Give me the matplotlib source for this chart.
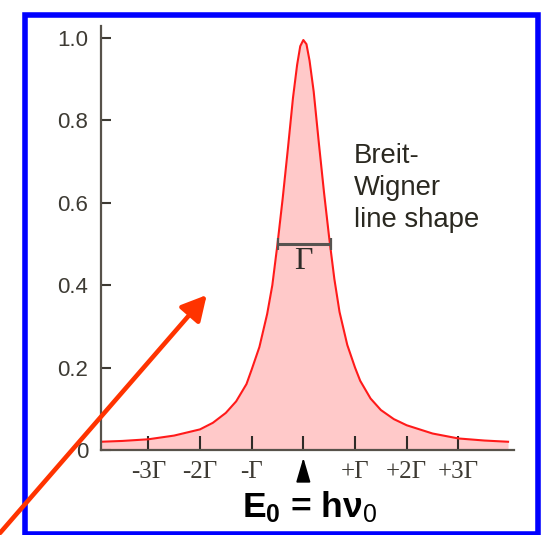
import matplotlib
matplotlib.use('Agg')
import matplotlib.pyplot as plt
from matplotlib.patches import Rectangle, FancyArrowPatch

plt.rcParams['font.family'] = ['Liberation Sans', 'DejaVu Sans']
plt.rcParams['mathtext.fontset'] = 'custom'
plt.rcParams['mathtext.rm'] = 'Liberation Sans'
plt.rcParams['mathtext.it'] = 'Liberation Sans:italic'
plt.rcParams['mathtext.bf'] = 'Liberation Sans:bold'

# line shape, energy in units of Gamma
energy = [-3.92, -3.5, -3.0, -2.5, -2.0, -1.75, -1.5, -1.3, -1.1, -1.0, -0.85, -0.7,
          -0.6, -0.5, -0.4, -0.3, -0.2, -0.12, -0.06, 0.0, 0.06, 0.12, 0.2, 0.3,
          0.4, 0.5, 0.6, 0.7, 0.85, 1.0, 1.1, 1.3, 1.5, 1.75, 2.0, 2.5, 3.0, 3.5, 3.96]
intensity = [0.020, 0.022, 0.026, 0.035, 0.050, 0.066, 0.090, 0.118, 0.160, 0.195, 0.250, 0.330,
             0.400, 0.500, 0.610, 0.730, 0.855, 0.935, 0.980, 0.995, 0.985, 0.945, 0.870, 0.745,
             0.625, 0.515, 0.415, 0.335, 0.255, 0.200, 0.168, 0.125, 0.097, 0.075, 0.060, 0.040, 0.028, 0.023, 0.020]

x_ticks = [-3, -2, -1, 0, 1, 2, 3]
x_labels = ['-3\u0393', '-2\u0393', '-\u0393', '', '+\u0393', '+2\u0393', '+3\u0393']
y_ticks = [0, 0.2, 0.4, 0.6, 0.8, 1.0]
y_labels = ['0', '0.2', '0.4', '0.6', '0.8', '1.0']

# full width at half maximum marker
fwhm_x = [-0.495, 0.53]
fwhm_y = [0.5, 0.5]

W, H = 543, 535
fig = plt.figure(figsize=(W / 100, H / 100), dpi=100)
ax = fig.add_axes([100.7 / W, 85 / H, 413.3 / W, 424 / H])

ax.fill_between(energy, intensity, 0, color='#ffc9c9', lw=0)
ax.plot(energy, intensity, color='#ff1a1a', lw=1.5)

ax.plot(fwhm_x, fwhm_y, color='#575350', lw=2.2, solid_capstyle='butt')
ax.plot(fwhm_x, fwhm_y, ls='none', marker='|', ms=8, mew=1.6, color='#575350')
ax.text(0, 0.458, '\u0393', ha='center', va='center', fontsize=23,
        family='Liberation Serif', color='#2e2c28')

ax.set_xlim(-3.92, 4.075)
ax.set_ylim(0, 1.029)
for s in ['top', 'right']:
    ax.spines[s].set_visible(False)
for s in ['left', 'bottom']:
    ax.spines[s].set_color('#57524a')
    ax.spines[s].set_linewidth(1.6)

ax.set_yticks(y_ticks)
ax.set_yticklabels(y_labels, fontsize=16, color='#3d3a33')
ax.set_xticks(x_ticks)
ax.set_xticklabels(x_labels, fontsize=18, family='Liberation Serif', color='#3d3a33')
ax.tick_params(axis='y', direction='in', length=7, width=1.5, color='#3d3a33', pad=9)
ax.tick_params(axis='x', direction='in', length=10, width=1.5, color='#2e2c28', pad=8)

# arrow marking E0 under the zero tick
ax.annotate('', xy=(0, -0.012), xytext=(0, -0.08),
            arrowprops=dict(arrowstyle='-|>,head_length=0.75,head_width=0.22',
                            color='black', lw=1.3, mutation_scale=20),
            annotation_clip=False)

fig.text(310 / W, 1 - 517 / H, r'$\mathbf{E_0}$ = h$\mathbf{\nu}_\mathrm{0}$', ha='center',
         va='baseline', fontsize=25.5, fontweight='bold', color='black')

txt_kw = dict(ha='left', va='baseline', fontsize=19.8, color='#2a2820')
fig.text(354 / W, 1 - 163.3 / H, 'Breit-', **txt_kw)
fig.text(354 / W, 1 - 195 / H, 'Wigner', **txt_kw)
fig.text(354 / W, 1 - 227 / H, 'line shape', **txt_kw)

# blue frame around the slide figure
fig.add_artist(Rectangle((24.5 / W, 1 - 534 / H), (537.5 - 24.5) / W, (534 - 15) / H,
                         transform=fig.transFigure, fill=False, ec='#0000ff', lw=4.0))

# red pointer arrow
fig.add_artist(FancyArrowPatch((0 / W, 1 - 533 / H), (206.7 / W, 1 - 295 / H),
                               transform=fig.transFigure,
                               arrowstyle='-|>,head_length=0.75,head_width=0.4',
                               mutation_scale=20, color='#ff3300', lw=3.3,
                               shrinkA=0, shrinkB=0, zorder=10))

fig.savefig('out.png', dpi=100)
